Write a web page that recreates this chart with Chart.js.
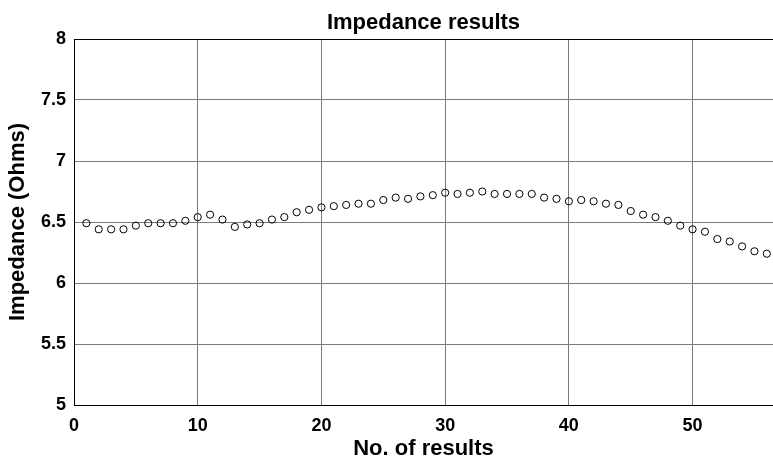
<!DOCTYPE html>
<html lang="en">
<head>
    <meta charset="UTF-8">
    <title>Impedance results</title>
    <script src="https://cdn.jsdelivr.net/npm/chart.js"></script>
    <style>
        html, body { margin: 0; padding: 0; background: #fff; }
        #wrap { width: 773px; height: 460px; }
    </style>
</head>
<body>
    <div id="wrap"><canvas id="impedanceChart" width="773" height="460"></canvas></div>

    <script>
        // Measurement index and impedance reading (Ohms)
        const resultNo = [
            1, 2, 3, 4, 5, 6, 7, 8, 9, 10,
            11, 12, 13, 14, 15, 16, 17, 18, 19, 20,
            21, 22, 23, 24, 25, 26, 27, 28, 29, 30,
            31, 32, 33, 34, 35, 36, 37, 38, 39, 40,
            41, 42, 43, 44, 45, 46, 47, 48, 49, 50,
            51, 52, 53, 54, 55, 56
        ];
        const impedance = [
            6.49, 6.44, 6.44, 6.44, 6.47, 6.49, 6.49, 6.49, 6.51, 6.54,
            6.56, 6.52, 6.46, 6.48, 6.49, 6.52, 6.54, 6.58, 6.60, 6.62,
            6.63, 6.64, 6.65, 6.65, 6.68, 6.70, 6.69, 6.71, 6.72, 6.74,
            6.73, 6.74, 6.75, 6.73, 6.73, 6.73, 6.73, 6.70, 6.69, 6.67,
            6.68, 6.67, 6.65, 6.64, 6.59, 6.56, 6.54, 6.51, 6.47, 6.44,
            6.42, 6.36, 6.34, 6.30, 6.26, 6.24
        ];
        const xTicks = [0, 10, 20, 30, 40, 50];
        const yTicks = [5, 5.5, 6, 6.5, 7, 7.5, 8];

        const points = resultNo.map((n, i) => ({ x: n, y: impedance[i] }));
        const boldFont = (size, lineHeight) => ({
            family: '"Liberation Sans", Arial, sans-serif',
            size: size,
            weight: 'bold',
            lineHeight: lineHeight || 1.2
        });
        const gridGray = '#7a7a7a';

        new Chart(document.getElementById('impedanceChart').getContext('2d'), {
            type: 'scatter',
            data: {
                datasets: [{
                    label: 'Impedance',
                    data: points,
                    pointStyle: 'circle',
                    pointRadius: 3.6,
                    pointBorderWidth: 1,
                    pointBorderColor: '#000',
                    pointBackgroundColor: 'rgba(0,0,0,0)'
                }]
            },
            options: {
                responsive: false,
                animation: false,
                layout: { padding: 0, autoPadding: false },
                plugins: {
                    legend: { display: false },
                    tooltip: { enabled: false },
                    title: {
                        display: true,
                        fullSize: false, // centre over the plot area, not the canvas
                        text: 'Impedance results',
                        color: '#000',
                        font: boldFont(22),
                        padding: { top: 10, bottom: 2.6 }
                    }
                },
                scales: {
                    x: {
                        type: 'linear',
                        min: 0,
                        max: 56.5,
                        afterBuildTicks: s => { s.ticks = xTicks.map(v => ({ value: v })); },
                        afterFit: s => { s.height = 55; s.paddingLeft = 0; s.paddingRight = 0; },
                        ticks: { color: '#000', font: boldFont(18), padding: 10, maxRotation: 0 },
                        grid: { color: gridGray, lineWidth: 1, drawTicks: false },
                        border: { color: '#000', width: 1 },
                        title: {
                            display: true,
                            text: 'No. of results',
                            color: '#000',
                            font: boldFont(22, 1),
                            padding: { top: 0, bottom: 0 }
                        }
                    },
                    y: {
                        type: 'linear',
                        min: 5,
                        max: 8,
                        afterBuildTicks: s => { s.ticks = yTicks.map(v => ({ value: v })); },
                        afterFit: s => { s.width = 74; },
                        ticks: {
                            color: '#000',
                            font: boldFont(18),
                            padding: 8,
                            callback: v => String(v)
                        },
                        grid: {
                            color: c => (c.tick && c.tick.value === 8 ? '#000' : gridGray),
                            lineWidth: 1,
                            drawTicks: false
                        },
                        border: { color: '#000', width: 1 },
                        title: {
                            display: true,
                            text: 'Impedance (Ohms)',
                            color: '#000',
                            font: boldFont(22),
                            padding: { top: 5, bottom: 0 }
                        }
                    }
                }
            }
        });
    </script>
</body>
</html>
